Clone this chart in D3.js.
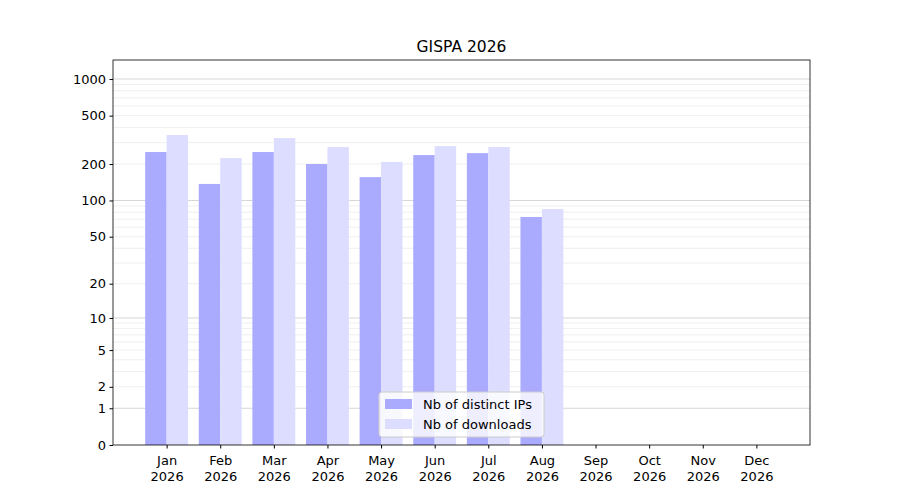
<!DOCTYPE html><html><head><meta charset="utf-8">
<script src="https://cdn.jsdelivr.net/npm/d3@7"></script>
<style>body{margin:0;background:#fff}text{font-family:"DejaVu Sans",sans-serif}</style></head><body>
<svg id="c" width="900" height="500"></svg>
<script>
const months=["Jan","Feb","Mar","Apr","May","Jun","Jul","Aug","Sep","Oct","Nov","Dec"];
const year="2026";
const ips=[251,137,251,200,156,237,246,73,0,0,0,0];
const downloads=[347,224,327,276,208,281,276,85,0,0,0,0];
const yTicks=[0,1,2,5,10,20,50,100,200,500,1000];
const majorGrid=[1,10,100,1000];
const minorGrid=[2,3,4,5,6,7,8,9,20,30,40,50,60,70,80,90,200,300,400,500,600,700,800,900];
const svg=d3.select("#c");
const L=113,R=810,T=60,B=445;
const x=d3.scaleLinear().domain([-1,12]).range([L,R]);
const y=d3.scaleSymlog().constant(1).domain([0,1431]).range([B,T]);
const bw=(x(1)-x(0))*0.4;
svg.append("g").selectAll("line").data(minorGrid).join("line").attr("x1",L).attr("x2",R)
 .attr("y1",d=>y(d)).attr("y2",d=>y(d)).attr("stroke","#ebebeb").attr("stroke-width",0.8);
svg.append("g").selectAll("line").data(majorGrid).join("line").attr("x1",L).attr("x2",R)
 .attr("y1",d=>y(d)).attr("y2",d=>y(d)).attr("stroke","#cccccc").attr("stroke-width",0.8);
svg.append("g").selectAll("rect").data(ips).join("rect").attr("x",(d,i)=>x(i)-bw).attr("width",bw)
 .attr("y",d=>y(d)).attr("height",d=>B-y(d)).attr("fill","#aaaaff");
svg.append("g").selectAll("rect").data(downloads).join("rect").attr("x",(d,i)=>x(i)).attr("width",bw)
 .attr("y",d=>y(d)).attr("height",d=>B-y(d)).attr("fill","#ddddff");
svg.append("rect").attr("x",L).attr("y",T).attr("width",R-L).attr("height",B-T).attr("fill","none").attr("stroke","#000").attr("stroke-width",0.8);
const ya=svg.append("g").attr("transform",`translate(${L},0)`).call(d3.axisLeft(y).tickValues(yTicks).tickFormat(d3.format("d")).tickSize(3.5).tickPadding(3.5));
ya.select(".domain").remove();ya.selectAll("text").attr("font-size",10*1.3).style("font-size","13px");
const xa=svg.append("g").attr("transform",`translate(0,${B})`).call(d3.axisBottom(x).tickValues(d3.range(12)).tickFormat("").tickSize(3.5));
xa.select(".domain").remove();
xa.selectAll(".tick").each(function(d){const t=d3.select(this).append("text").attr("fill","#000").attr("text-anchor","middle").style("font-size","13px");
 t.append("tspan").attr("x",0).attr("y",20).text(months[d]);t.append("tspan").attr("x",0).attr("y",36).text(year);});
svg.append("text").attr("x",(L+R)/2).attr("y",52).attr("text-anchor","middle").style("font-size","15.5px").text("GISPA 2026");
const lg=svg.append("g").attr("transform","translate(379,392)");
lg.append("rect").attr("width",165).attr("height",45).attr("rx",3).attr("fill","#fff").attr("fill-opacity",0.8).attr("stroke","#ccc");
[["Nb of distinct IPs","#aaaaff"],["Nb of downloads","#ddddff"]].forEach((s,i)=>{
 lg.append("rect").attr("x",6).attr("y",7+i*20).attr("width",27).attr("height",10).attr("fill",s[1]);
 lg.append("text").attr("x",44).attr("y",17+i*20).style("font-size","13px").text(s[0]);});
</script></body></html>
